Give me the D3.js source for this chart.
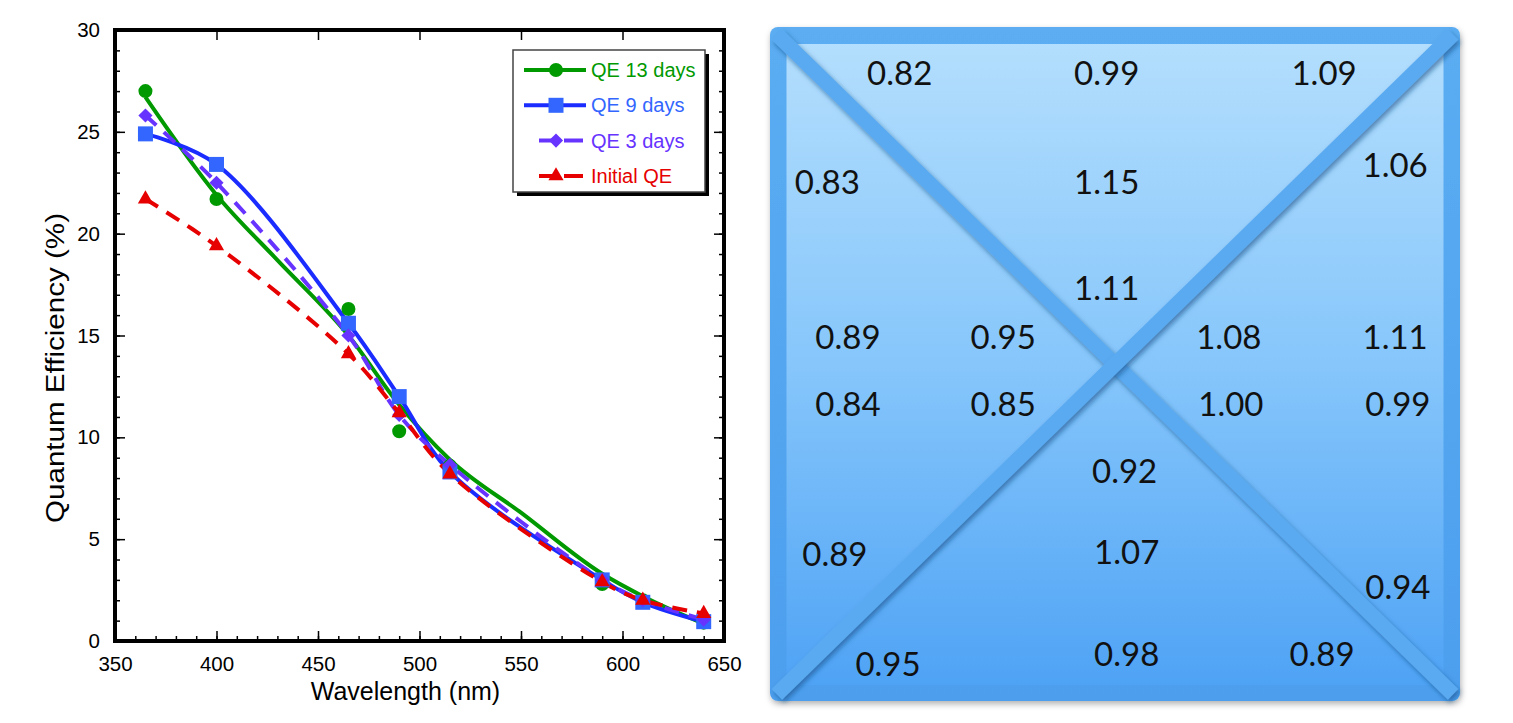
<!DOCTYPE html>
<html>
<head>
<meta charset="utf-8">
<script src="https://cdn.jsdelivr.net/npm/d3@7"></script>
<style>
    body { margin: 0; background: #fff; }
    svg { display: block; }
</style>
</head>
<body>
<svg id="chart" width="1513" height="723"></svg>
<script>
// wavelengths (nm) and QE values (%)
const wavelengths = [365, 400, 465, 490, 515, 590, 610, 640];
const qe13 = [27.0, 21.7, 16.3, 10.3, 8.6, 2.8, 2.0, 0.9];
const qe9 = [24.9, 23.4, 15.6, 12.0, 8.3, 3.0, 1.9, 0.95];
const qe3 = [25.8, 22.5, 15.0, 11.1, 8.65, 3.0, 2.0, 1.05];
const qeInitial = [21.7, 19.4, 14.1, 11.2, 8.2, 2.9, 2.0, 1.35];

// the 13 day curve is a fitted line, not a line through the points
const fitWavelengths = [365, 400, 430, 465, 490, 515, 550, 590, 610, 640];
const qe13Fit = [26.7, 21.9, 18.7, 15.0, 11.6, 8.9, 6.3, 3.3, 2.2, 0.85];

const xTicks = [350, 400, 450, 500, 550, 600, 650];
const yTicks = [0, 5, 10, 15, 20, 25, 30];

const seriesNames = ["QE 13 days", "QE 9 days", "QE 3 days", "Initial QE"];

// ratios shown in the right hand panel, and where each one sits (fractions of the panel)
const ratioValues = ["0.82", "0.99", "1.09", "0.83", "1.15", "1.06", "1.11",
    "0.89", "0.95", "1.08", "1.11", "0.84", "0.85", "1.00", "0.99",
    "0.92", "0.89", "1.07", "0.94", "0.95", "0.98", "0.89"];
const ratioSpots = [[.188, .067], [.488, .067], [.803, .067], [.083, .228], [.488, .228], [.906, .203], [.488, .386],
    [.113, .459], [.338, .459], [.665, .459], [.906, .459], [.113, .558], [.338, .558], [.668, .558], [.910, .558],
    [.514, .657], [.094, .781], [.517, .777], [.910, .829], [.171, .944], [.517, .929], [.800, .929]];

let svg = d3.select("#chart");
let font = "'Liberation Sans', Arial, Helvetica, sans-serif";

let x = d3.scaleLinear().domain([350, 650]).range([115, 724]);
let y = d3.scaleLinear().domain([0, 30]).range([641, 30]);

let series = [
    {name: seriesNames[0], values: qe13, line: "#009900", mark: "#009900", text: "#009900", dash: null, symbol: d3.symbolCircle, size: 154, rot: 0},
    {name: seriesNames[1], values: qe9, line: "#1a2cff", mark: "#3366ff", text: "#3366ff", dash: null, symbol: d3.symbolSquare, size: 225, rot: 0},
    {name: seriesNames[2], values: qe3, line: "#6633ff", mark: "#6633ff", text: "#6633ff", dash: "15,10", symbol: d3.symbolSquare, size: 100, rot: 45},
    {name: seriesNames[3], values: qeInitial, line: "#e60000", mark: "#e60000", text: "#e60000", dash: "15,10", symbol: d3.symbolTriangle, size: 100, rot: 0}
];

// ---- axes ----
let axisG = svg.append("g");

let styleAxis = (g, showLabels) => {
    g.select(".domain").remove();
    g.selectAll(".tick line").attr("stroke", "#000").attr("stroke-width", 1.5);
    g.selectAll(".tick text")
        .attr("font-family", font)
        .attr("font-size", 20.5)
        .attr("fill", "#000")
        .attr("opacity", showLabels ? 1 : 0);
};

axisG.append("g").attr("transform", "translate(0,641)")
    .call(d3.axisBottom(x).tickValues(d3.range(350, 651, 10)).tickSize(-5).tickFormat(""))
    .call(g => styleAxis(g, false));
axisG.append("g").attr("transform", "translate(0,641)")
    .call(d3.axisBottom(x).tickValues(xTicks).tickSize(-10).tickPadding(15).tickFormat(d3.format("d")))
    .call(g => styleAxis(g, true));
axisG.append("g").attr("transform", "translate(0,30)")
    .call(d3.axisTop(x).tickValues(xTicks).tickSize(-10).tickFormat(""))
    .call(g => styleAxis(g, false));

axisG.append("g").attr("transform", "translate(115,0)")
    .call(d3.axisLeft(y).tickValues(d3.range(0, 31, 1)).tickSize(-5).tickFormat(""))
    .call(g => styleAxis(g, false));
axisG.append("g").attr("transform", "translate(115,0)")
    .call(d3.axisLeft(y).tickValues(yTicks).tickSize(-10).tickPadding(15).tickFormat(d3.format("d")))
    .call(g => styleAxis(g, true));
axisG.append("g").attr("transform", "translate(724,0)")
    .call(d3.axisRight(y).tickValues(d3.range(0, 31, 1)).tickSize(-5).tickFormat(""))
    .call(g => styleAxis(g, false));
axisG.append("g").attr("transform", "translate(724,0)")
    .call(d3.axisRight(y).tickValues(yTicks).tickSize(-10).tickFormat(""))
    .call(g => styleAxis(g, false));

svg.append("rect")
    .attr("x", x(350)).attr("y", y(30))
    .attr("width", x(650) - x(350)).attr("height", y(0) - y(30))
    .attr("fill", "none").attr("stroke", "#000").attr("stroke-width", 4);

svg.append("text")
    .attr("x", (x(350) + x(650)) / 2 - 14).attr("y", 700)
    .attr("text-anchor", "middle")
    .attr("font-family", font).attr("font-size", 25)
    .text("Wavelength (nm)");

svg.append("text")
    .attr("transform", "translate(64,368) rotate(-90)")
    .attr("text-anchor", "middle")
    .attr("font-family", font).attr("font-size", 26)
    .attr("textLength", 310).attr("lengthAdjust", "spacingAndGlyphs")
    .text("Quantum Efficiency (%)");

// ---- lines ----
let line = d3.line().curve(d3.curveCatmullRom.alpha(0.5));
let fitLine = d3.line().curve(d3.curveMonotoneX);
let plot = svg.append("g");

plot.append("path")
    .attr("fill", "none").attr("stroke", series[0].line).attr("stroke-width", 4)
    .attr("d", fitLine(fitWavelengths.map((w, i) => [x(w), y(qe13Fit[i])])));

for (let s of series.slice(1)) {
    plot.append("path")
        .attr("fill", "none")
        .attr("stroke", s.line)
        .attr("stroke-width", 4)
        .attr("stroke-dasharray", s.dash)
        .attr("d", line(wavelengths.map((w, i) => [x(w), y(s.values[i])])));
}

for (let s of series) {
    plot.selectAll(null)
        .data(s.values)
        .join("path")
        .attr("transform", (d, i) => `translate(${x(wavelengths[i])},${y(d)}) rotate(${s.rot})`)
        .attr("d", d3.symbol().type(s.symbol).size(s.size))
        .attr("fill", s.mark);
}

// ---- legend ----
let legend = svg.append("g").attr("transform", "translate(513,50)");
legend.append("rect").attr("x", 4).attr("y", 4).attr("width", 192).attr("height", 142).attr("fill", "#000");
legend.append("rect").attr("width", 192).attr("height", 142).attr("fill", "#fff").attr("stroke", "#444").attr("stroke-width", 1.5);

series.forEach((s, i) => {
    let ly = 20 + i * 35.3;
    let row = legend.append("g").attr("transform", `translate(0,${ly})`);
    if (s.dash) {
        row.append("line").attr("x1", 26).attr("x2", 70).attr("y1", 0).attr("y2", 0)
            .attr("stroke", s.line).attr("stroke-width", 4).attr("stroke-dasharray", "13,12,20,100");
    } else {
        row.append("line").attr("x1", 11).attr("x2", 73).attr("y1", 0).attr("y2", 0)
            .attr("stroke", s.line).attr("stroke-width", 4);
    }
    row.append("path")
        .attr("transform", `translate(43,0) rotate(${s.rot})`)
        .attr("d", d3.symbol().type(s.symbol).size(s.size))
        .attr("fill", s.mark);
    row.append("text")
        .attr("x", 78).attr("y", 7)
        .attr("font-family", font).attr("font-size", 20)
        .attr("fill", s.text)
        .text(s.name);
});

// ---- right panel ----
let defs = svg.append("defs");
let fill = defs.append("linearGradient").attr("id", "panelFill").attr("x1", 0).attr("x2", 0).attr("y1", 0).attr("y2", 1);
fill.append("stop").attr("offset", "0%").attr("stop-color", "#b3defd");
fill.append("stop").attr("offset", "50%").attr("stop-color", "#86c6fb");
fill.append("stop").attr("offset", "100%").attr("stop-color", "#4fa3f5");
let frame = defs.append("linearGradient").attr("id", "frameFill").attr("x1", 0).attr("x2", 0).attr("y1", 0).attr("y2", 1);
frame.append("stop").attr("offset", "0%").attr("stop-color", "#5badf2");
frame.append("stop").attr("offset", "100%").attr("stop-color", "#4d9fee");

defs.append("filter").attr("id", "panelShadow").attr("x", "-5%").attr("y", "-5%").attr("width", "110%").attr("height", "110%")
    .append("feDropShadow").attr("dx", 1).attr("dy", 3).attr("stdDeviation", 3)
    .attr("flood-color", "#000").attr("flood-opacity", 0.3);
defs.append("filter").attr("id", "barShadow").attr("x", "-5%").attr("y", "-5%").attr("width", "110%").attr("height", "110%")
    .append("feDropShadow").attr("dx", 2).attr("dy", 3).attr("stdDeviation", 2.5)
    .attr("flood-color", "#174b85").attr("flood-opacity", 0.6);

let px = d3.scaleLinear().domain([0, 1]).range([770, 1460]);
let py = d3.scaleLinear().domain([0, 1]).range([27, 701]);
let panel = svg.append("g");

panel.append("rect")
    .attr("x", px(0)).attr("y", py(0)).attr("width", px(1) - px(0)).attr("height", py(1) - py(0))
    .attr("rx", 8).attr("fill", "url(#frameFill)")
    .attr("filter", "url(#panelShadow)");
panel.append("rect")
    .attr("x", px(0) + 16.5).attr("y", py(0) + 17).attr("width", px(1) - px(0) - 33).attr("height", py(1) - py(0) - 33)
    .attr("fill", "url(#panelFill)");

let bars = [[[.01, .011], [.99, .99]], [[.99, .011], [.01, .99]]];
for (let b of bars) {
    panel.append("line")
        .attr("x1", px(b[0][0])).attr("y1", py(b[0][1]))
        .attr("x2", px(b[1][0])).attr("y2", py(b[1][1]))
        .attr("stroke", "#5aaaf1").attr("stroke-width", 15)
        .attr("filter", "url(#barShadow)");
}

panel.selectAll("text.ratio")
    .data(ratioValues)
    .join("text")
    .attr("class", "ratio")
    .attr("x", (d, i) => px(ratioSpots[i][0]))
    .attr("y", (d, i) => py(ratioSpots[i][1]))
    .attr("text-anchor", "middle")
    .attr("dominant-baseline", "central")
    .attr("font-family", "Lato, 'Open Sans', sans-serif")
    .attr("font-size", 33)
    .attr("fill", "#111")
    .text(d => d);
</script>
</body>
</html>
